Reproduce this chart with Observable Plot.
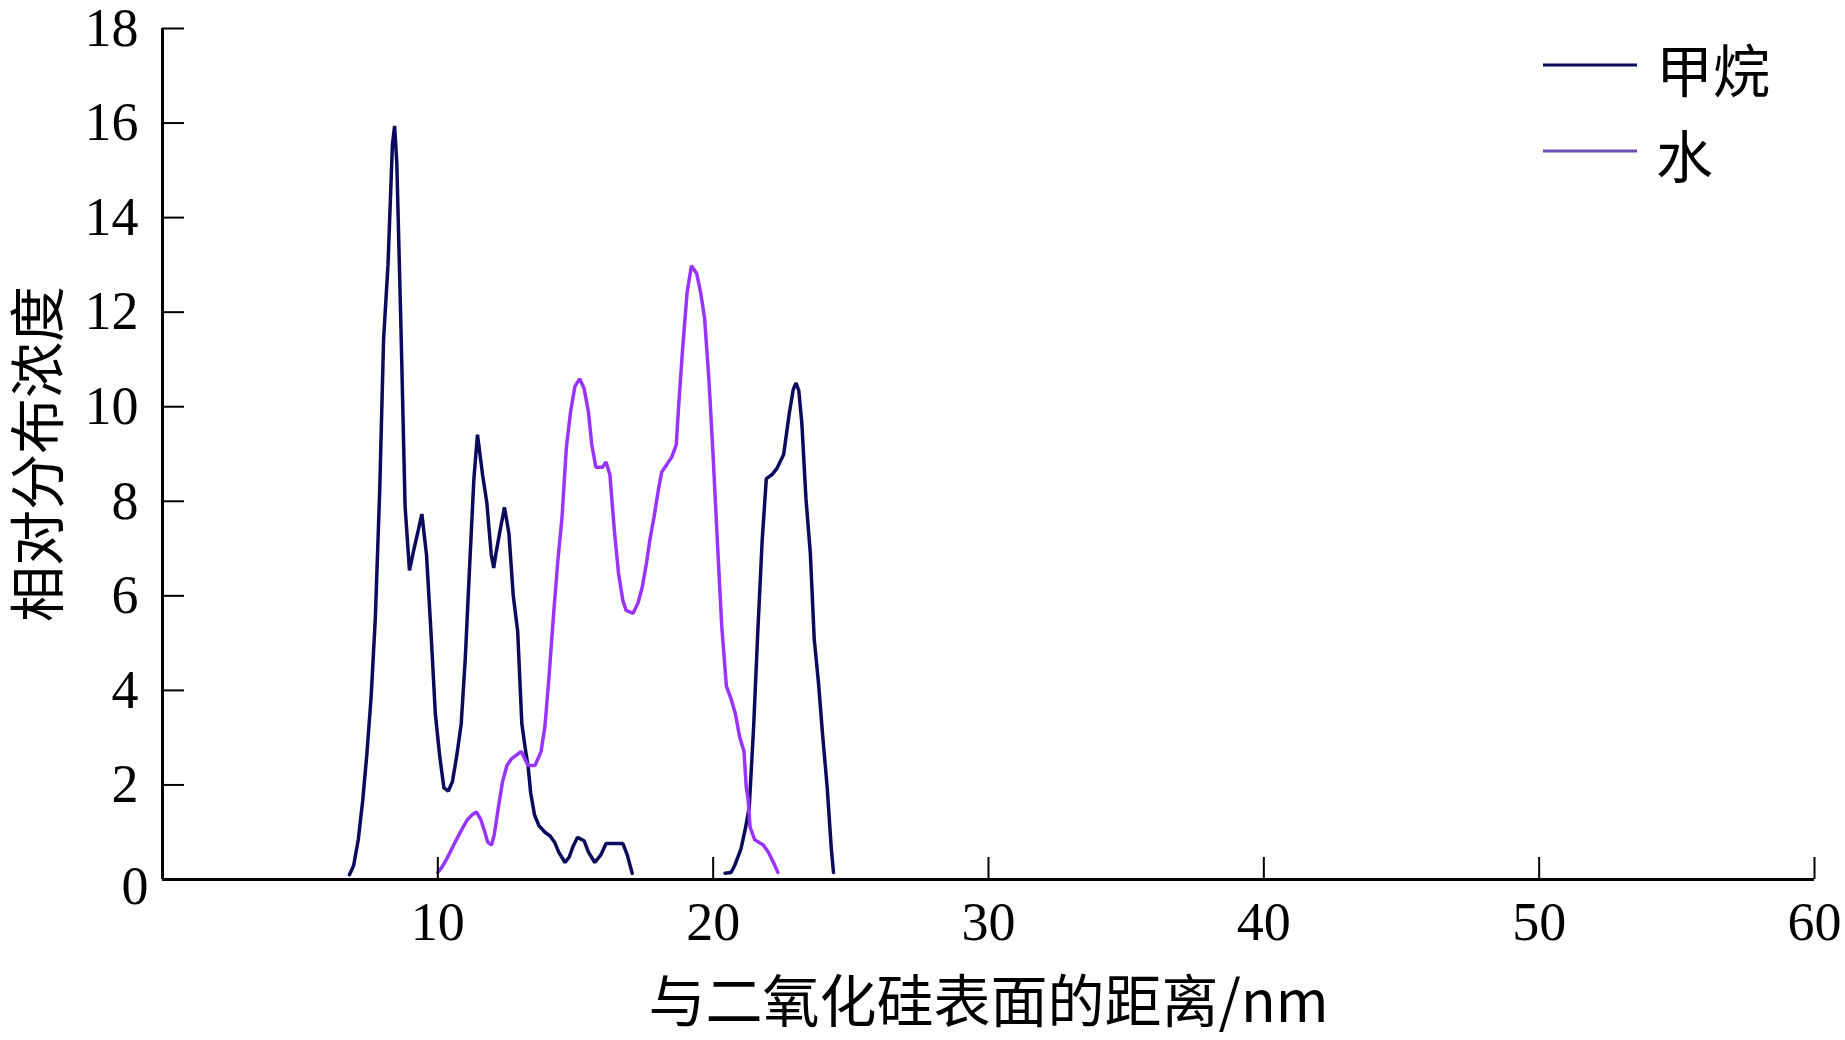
<!DOCTYPE html>
<html>
<head>
<meta charset="utf-8">
<script src="https://cdn.jsdelivr.net/npm/d3@7"></script>
<script src="https://cdn.jsdelivr.net/npm/@observablehq/plot@0.6"></script>
<style>
  html, body { margin: 0; padding: 0; background: #fff; }
  #chart { width: 1845px; height: 1040px; }
</style>
</head>
<body>
<div id="chart"></div>
<script>
// ---------------- data ----------------
const seriesNames = ["甲烷", "水"];
const xTitle = "与二氧化硅表面的距离/nm";
const yTitle = "相对分布浓度";
const xTicks = [10, 20, 30, 40, 50, 60];
const yTicks = [0, 2, 4, 6, 8, 10, 12, 14, 16, 18];

// 甲烷 (methane) — null breaks the line between the two groups
const methaneX = [6.79, 6.94, 7.11, 7.27, 7.42, 7.58, 7.73, 7.89, 8.03, 8.19, 8.35, 8.43, 8.51, 8.66, 8.81, 8.97,
  9.13, 9.29, 9.42, 9.59, 9.75, 9.91, 10.07, 10.22, 10.38, 10.53, 10.69, 10.85, 11.00, 11.15, 11.31, 11.44,
  11.63, 11.78, 11.94, 12.03, 12.10, 12.26, 12.42, 12.58, 12.74, 12.90, 13.05, 13.19, 13.28, 13.37, 13.51,
  13.67, 13.89, 14.08, 14.24, 14.39, 14.62, 14.77, 14.91, 15.07, 15.31, 15.47, 15.70, 15.92, 16.11, 16.72,
  16.88, 17.00, 17.06,
  18.70,
  20.43, 20.65, 20.77, 21.01, 21.17, 21.31, 21.47, 21.62, 21.78, 21.93, 22.13, 22.31, 22.56, 22.76, 22.91,
  23.01, 23.11, 23.22, 23.37, 23.53, 23.67, 23.83, 23.98, 24.14, 24.29, 24.37];
const methaneY = [0.10, 0.29, 0.84, 1.66, 2.63, 3.89, 5.53, 8.25, 11.43, 13.00, 15.54, 15.94, 15.15, 11.69, 7.90, 6.54,
  6.98, 7.39, 7.73, 6.86, 5.24, 3.50, 2.60, 1.94, 1.87, 2.07, 2.63, 3.30, 4.71, 6.57, 8.48, 9.41,
  8.54, 7.97, 6.87, 6.59, 6.86, 7.38, 7.87, 7.33, 6.00, 5.25, 3.30, 2.71, 2.39, 1.84, 1.37,
  1.14, 1.00, 0.92, 0.79, 0.58, 0.36, 0.47, 0.70, 0.89, 0.82, 0.58, 0.36, 0.52, 0.76, 0.76,
  0.52, 0.26, 0.13,
  null,
  0.13, 0.15, 0.28, 0.65, 1.08, 1.53, 3.23, 5.23, 7.17, 8.48, 8.56, 8.69, 8.99, 9.84, 10.37,
  10.50, 10.34, 9.66, 8.06, 6.89, 5.09, 4.13, 3.02, 1.96, 0.66, 0.15];

// 水 (water)
const waterX = [10.00, 10.15, 10.31, 10.45, 10.61, 10.77, 10.92, 11.08, 11.25, 11.40, 11.56, 11.71, 11.81, 11.95,
  12.05, 12.20, 12.35, 12.51, 12.67, 12.83, 13.03, 13.16, 13.28, 13.53, 13.75, 13.89, 14.04, 14.20, 14.36,
  14.51, 14.67, 14.83, 14.98, 15.15, 15.31, 15.47, 15.59, 15.74, 15.98, 16.11, 16.25, 16.41, 16.56, 16.72,
  16.84, 17.09, 17.27, 17.42, 17.58, 17.70, 17.85, 18.01, 18.13, 18.32, 18.50, 18.66, 18.75, 18.89, 19.05,
  19.21, 19.40, 19.55, 19.69, 19.85, 20.00, 20.16, 20.31, 20.48, 20.65, 20.81, 20.96, 21.12, 21.20, 21.27,
  21.34, 21.51, 21.82, 22.00, 22.19, 22.35];
const waterY = [0.15, 0.26, 0.42, 0.58, 0.77, 0.95, 1.11, 1.27, 1.37, 1.43, 1.27, 1.00, 0.79, 0.73,
  0.95, 1.53, 2.07, 2.41, 2.55, 2.62, 2.71, 2.55, 2.41, 2.41, 2.71, 3.24, 4.30, 5.58, 6.75,
  7.66, 9.15, 9.93, 10.43, 10.59, 10.39, 9.89, 9.20, 8.72, 8.72, 8.83, 8.56, 7.39, 6.49, 5.90,
  5.69, 5.63, 5.85, 6.17, 6.70, 7.18, 7.66, 8.24, 8.62, 8.78, 8.94, 9.20, 10.05, 11.22, 12.40,
  12.98, 12.82, 12.40, 11.86, 10.53, 8.94, 7.07, 5.37, 4.09, 3.82, 3.50, 3.02, 2.71, 1.96, 1.69,
  1.11, 0.84, 0.73, 0.58, 0.36, 0.15];

// ---------------- styles ----------------
const methaneColor = "#0b0b5e";
const waterColor = "#9933ff";
const waterLegendColor = "#6c4fb0";
const serif = "'Liberation Serif', 'Times New Roman', serif";
const cjk = "'Noto Sans CJK SC', sans-serif";

const W = 1845, H = 1040;
const mL = 162, mR = 31, mT = 28, mB = 161;
const frameW = W - mL - mR, frameH = H - mT - mB;
const tickLen = 22;

const methane = methaneX.map((x, i) => ({x, y: methaneY[i]}));
const water = waterX.map((x, i) => ({x, y: waterY[i]}));

const plot = Plot.plot({
  width: W, height: H,
  marginLeft: mL, marginRight: mR, marginTop: mT, marginBottom: mB,
  x: {domain: [0, 60]},
  y: {domain: [0, 18]},
  style: {background: "white", color: "black", fontFamily: serif, overflow: "visible"},
  marks: [
    Plot.line(methane, {x: "x", y: "y", stroke: methaneColor, strokeWidth: 3.5, strokeLinejoin: "miter"}),
    Plot.line(water, {x: "x", y: "y", stroke: waterColor, strokeWidth: 3.5, strokeLinejoin: "miter"}),
    // inward tick marks
    Plot.ruleY(yTicks, {stroke: "black", strokeWidth: 2, insetRight: frameW - tickLen}),
    Plot.ruleX(xTicks, {stroke: "black", strokeWidth: 2, insetTop: frameH - tickLen}),
    // axis lines
    Plot.ruleX([0], {stroke: "black", strokeWidth: 3}),
    Plot.ruleY([0], {stroke: "black", strokeWidth: 3}),
    // tick labels
    Plot.axisY({ticks: yTicks.filter(d => d !== 0), tickSize: 0, tickPadding: 24, fontSize: 54, fontFamily: serif, label: null}),
    Plot.axisY({ticks: [0], tickSize: 0, tickPadding: 14, dy: 7, fontSize: 54, fontFamily: serif, label: null}),
    Plot.axisX({ticks: xTicks, tickSize: 0, tickPadding: 22, fontSize: 54, fontFamily: serif, label: null}),
    // axis titles
    Plot.text([xTitle], {text: d => d, frameAnchor: "bottom", dy: 124, lineAnchor: "middle", textAnchor: "middle", fontSize: 57, fontFamily: cjk}),
    Plot.text([yTitle], {text: d => d, frameAnchor: "left", dx: -122, rotate: -90, textAnchor: "middle", lineAnchor: "middle", fontSize: 56, fontFamily: cjk})
  ]
});

document.getElementById("chart").appendChild(plot);

// legend (top right)
const svg = d3.select(plot);
const legend = svg.append("g").attr("class", "legend").attr("text-anchor", "start");
const legendColors = [methaneColor, waterLegendColor];
const legendRowY = [65, 151];
seriesNames.forEach((name, i) => {
  legend.append("line")
    .attr("x1", 1543).attr("x2", 1637)
    .attr("y1", legendRowY[i]).attr("y2", legendRowY[i])
    .attr("stroke", legendColors[i]).attr("stroke-width", 3);
  legend.append("text")
    .attr("x", 1656).attr("y", legendRowY[i] + 2)
    .attr("text-anchor", "start")
    .attr("dominant-baseline", "central")
    .attr("font-family", cjk).attr("font-size", 57)
    .attr("fill", "black")
    .text(name);
});
</script>
</body>
</html>
